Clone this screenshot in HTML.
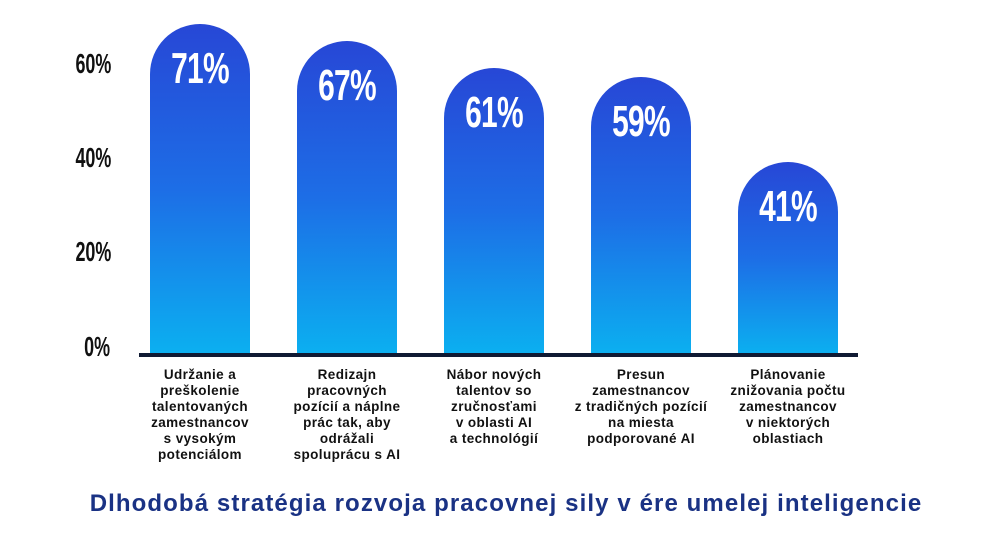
<!DOCTYPE html>
<html><head><meta charset="utf-8"><style>
body{margin:0;width:986px;height:552px;background:#fff;position:relative;overflow:hidden;font-family:"Liberation Sans",sans-serif}
.bar{position:absolute;width:100px;bottom:197px;border-radius:50px 50px 0 0;background:linear-gradient(to bottom,#2747d6,#1d6ee6 50%,#0bb0f0)}
.v{position:absolute;width:100%;text-align:center;top:20px;color:#fff;font-weight:bold;font-size:44px;transform:scaleX(0.68);letter-spacing:-1px}
.y{position:absolute;left:56px;width:54px;text-align:right;font-weight:bold;font-size:28px;color:#111;transform:scaleX(0.64);transform-origin:right}
.axis{position:absolute;left:139px;width:719px;top:353px;height:4px;background:#101a33}
.lab{position:absolute;top:367px;width:150px;text-align:center;font-weight:bold;font-size:13.5px;line-height:16px;color:#111;letter-spacing:0.4px}
.title{position:absolute;top:490px;left:13px;width:986px;text-align:center;font-weight:bold;font-size:24px;color:#1a3284;letter-spacing:1.1px}
</style></head><body>
<div class="y" style="top:48px">60%</div>
<div class="y" style="top:142px">40%</div>
<div class="y" style="top:236px">20%</div>
<div class="y" style="top:331px">0%</div>
<div class="bar" style="left:150px;top:24px"><div class="v">71%</div></div>
<div class="bar" style="left:297px;top:41px"><div class="v">67%</div></div>
<div class="bar" style="left:444px;top:68px"><div class="v">61%</div></div>
<div class="bar" style="left:591px;top:77px"><div class="v">59%</div></div>
<div class="bar" style="left:738px;top:162px"><div class="v">41%</div></div>
<div class="axis"></div>
<div class="lab" style="left:125px">Udržanie a<br>preškolenie<br>talentovaných<br>zamestnancov<br>s vysokým<br>potenciálom</div>
<div class="lab" style="left:272px">Redizajn<br>pracovných<br>pozícií a náplne<br>prác tak, aby<br>odrážali<br>spoluprácu s AI</div>
<div class="lab" style="left:419px">Nábor nových<br>talentov so<br>zručnosťami<br>v oblasti AI<br>a technológií</div>
<div class="lab" style="left:561px;width:160px">Presun<br>zamestnancov<br>z tradičných pozícií<br>na miesta<br>podporované AI</div>
<div class="lab" style="left:713px">Plánovanie<br>znižovania počtu<br>zamestnancov<br>v niektorých<br>oblastiach</div>
<div class="title">Dlhodobá stratégia rozvoja pracovnej sily v ére umelej inteligencie</div>
</body></html>
